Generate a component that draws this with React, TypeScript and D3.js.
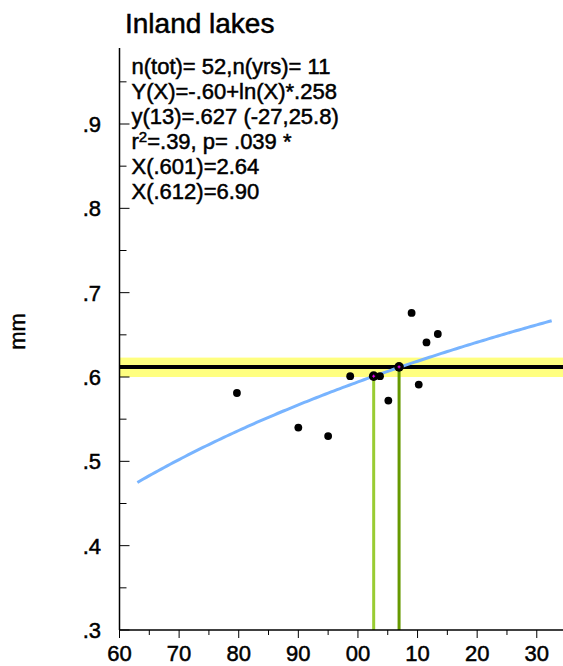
import React from "react";
import * as d3 from "d3";

const W = 563;
const H = 666;

const title = "Inland lakes";
const yLabel = "mm";
const statLines = [
  "n(tot)= 52,n(yrs)= 11",
  "Y(X)=-.60+ln(X)*.258",
  "y(13)=.627 (-27,25.8)",
  "R2",
  "X(.601)=2.64",
  "X(.612)=6.90",
];
const r2Text = ["r", "2", "=.39, p= .039 *"];

const xTickYears = [1960, 1970, 1980, 1990, 2000, 2010, 2020, 2030];
const xTickLabels = ["60", "70", "80", "90", "00", "10", "20", "30"];
const xMinorYears = [1965, 1975, 1985, 1995, 2005, 2015, 2025];
const yTickValues = [0.3, 0.4, 0.5, 0.6, 0.7, 0.8, 0.9];
const yTickLabels = [".3", ".4", ".5", ".6", ".7", ".8", ".9"];
const yMinorValues = [0.35, 0.45, 0.55, 0.65, 0.75, 0.85, 0.95];

// observed yearly means
const obsYears = [1979.7, 1990.0, 1995.0, 1998.7, 2003.7, 2005.1, 2009.0, 2010.2, 2011.5, 2013.4];
const obsValues = [0.581, 0.540, 0.530, 0.601, 0.601, 0.572, 0.676, 0.591, 0.641, 0.651];

// fitted log curve Y = a + ln(year - base) * b
const fitA = -0.594;
const fitB = 0.258;
const fitBase = 1900;
const fitYears = d3.range(1963, 2032.6, 0.5);

// threshold crossings
const crossYears = [2002.64, 2006.9];
const crossValues = [0.601, 0.612];
const crossColors = ["#99cc33", "#669900"];

const refLevel = 0.612;
const bandLow = 0.6;
const bandHigh = 0.623;

const FONT = "'Liberation Sans', Arial, Helvetica, sans-serif";
const TS = { stroke: "#000", strokeWidth: 0.5 };

export default function App() {
  const x = d3.scaleLinear().domain([1960, 2034.4]).range([119.5, 563]);
  const y = d3.scaleLinear().domain([0.3, 0.99]).range([630, 48.1]);

  const fitLine = d3
    .line<number>()
    .x((d) => x(d))
    .y((d) => y(fitA + Math.log(d - fitBase) * fitB))
    .curve(d3.curveLinear);

  return (
    <svg
      width={W}
      height={H}
      style={{ position: "absolute", left: 0, top: 0, background: "#fff" }}
      fontFamily={FONT}
    >
      {/* yellow band */}
      <rect
        x={x(1960)}
        y={y(bandHigh)}
        width={x(2034.4) - x(1960)}
        height={y(bandLow) - y(bandHigh)}
        fill="#ffff80"
      />
      {/* green drop lines */}
      {crossYears.map((yr, i) => (
        <line
          key={"g" + i}
          x1={x(yr)}
          x2={x(yr)}
          y1={y(0.3)}
          y2={y(crossValues[i])}
          stroke={crossColors[i]}
          strokeWidth={3}
        />
      ))}
      {/* reference line */}
      <line
        x1={x(1960)}
        x2={x(2034.4)}
        y1={y(refLevel)}
        y2={y(refLevel)}
        stroke="#000"
        strokeWidth={4}
      />
      {/* fit curve */}
      <path d={fitLine(fitYears) || ""} fill="none" stroke="#78b4ff" strokeWidth={3} />
      {/* observations */}
      {obsYears.map((yr, i) => (
        <circle key={"o" + i} cx={x(yr)} cy={y(obsValues[i])} r={3.9} fill="#000" />
      ))}
      {/* crossing markers */}
      {crossYears.map((yr, i) => (
        <g key={"m" + i}>
          <circle cx={x(yr)} cy={y(crossValues[i])} r={4.8} fill="#000" />
          <line
            x1={x(yr) - 1.5}
            x2={x(yr) + 1.5}
            y1={y(crossValues[i])}
            y2={y(crossValues[i])}
            stroke="#ff00ff"
            strokeWidth={1}
          />
          <line
            x1={x(yr)}
            x2={x(yr)}
            y1={y(crossValues[i]) - 1.5}
            y2={y(crossValues[i]) + 1.5}
            stroke="#ff00ff"
            strokeWidth={1}
          />
        </g>
      ))}

      {/* axes */}
      <line x1={x(1960)} x2={x(1960)} y1={y(0.99)} y2={y(0.3)} stroke="#000" strokeWidth={1.5} />
      <line x1={x(1960)} x2={x(2034.4)} y1={y(0.3)} y2={y(0.3)} stroke="#000" strokeWidth={1.5} />
      {yTickValues.map((v, i) => (
        <g key={"yt" + i}>
          <line x1={x(1960)} x2={x(1960) + 10} y1={y(v)} y2={y(v)} stroke="#000" strokeWidth={1} />
          <text x={101} y={y(v) + 8} textAnchor="end" fontSize={22} {...TS}>
            {yTickLabels[i]}
          </text>
        </g>
      ))}
      {yMinorValues.map((v, i) => (
        <line key={"ym" + i} x1={x(1960)} x2={x(1960) + 7} y1={y(v)} y2={y(v)} stroke="#000" strokeWidth={1} />
      ))}
      {xTickYears.map((yr, i) => (
        <g key={"xt" + i}>
          <line x1={x(yr)} x2={x(yr)} y1={y(0.3)} y2={y(0.3) + 8} stroke="#000" strokeWidth={1} />
          <text x={x(yr)} y={661} textAnchor="middle" fontSize={22} {...TS}>
            {xTickLabels[i]}
          </text>
        </g>
      ))}
      {xMinorYears.map((yr, i) => (
        <line key={"xm" + i} x1={x(yr)} x2={x(yr)} y1={y(0.3)} y2={y(0.3) + 5} stroke="#000" strokeWidth={1} />
      ))}

      {/* y label */}
      <text transform="translate(25,331.5) rotate(-90)" textAnchor="middle" fontSize={22} {...TS}>
        {yLabel}
      </text>

      {/* title */}
      <text x={125} y={33} fontSize={28} {...TS}>
        {title}
      </text>

      {/* statistics */}
      {statLines.map((s, i) =>
        s === "R2" ? (
          <text key={"s" + i} x={131.5} y={74 + i * 25} fontSize={22} {...TS}>
            {r2Text[0]}
            <tspan fontSize={15} dy={-7}>
              {r2Text[1]}
            </tspan>
            <tspan dy={7}>{r2Text[2]}</tspan>
          </text>
        ) : (
          <text key={"s" + i} x={131.5} y={74 + i * 25} fontSize={22} {...TS}>
            {s}
          </text>
        )
      )}
    </svg>
  );
}
